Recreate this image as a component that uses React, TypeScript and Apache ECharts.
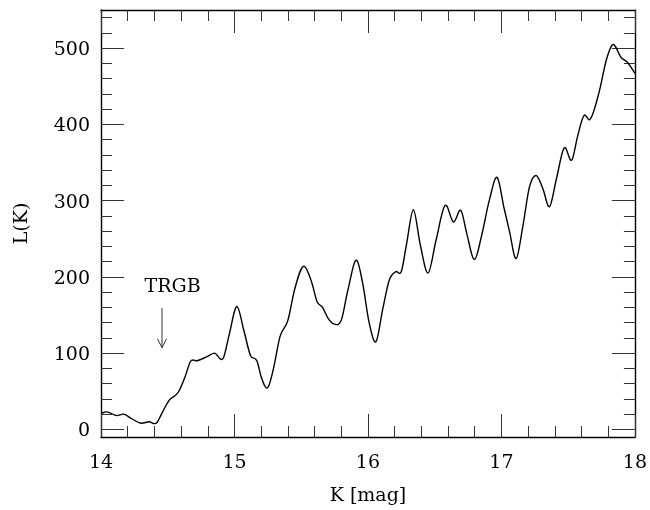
import React, { useEffect, useRef } from "react";
import * as echarts from "echarts";

const kMag = [
  14.0, 14.04, 14.12, 14.17, 14.23, 14.3, 14.36, 14.42, 14.45, 14.51, 14.58, 14.63, 14.67, 14.72, 14.79,
  14.85, 14.92, 14.96, 15.02, 15.07, 15.12, 15.17, 15.2, 15.25, 15.29, 15.34, 15.4, 15.45, 15.52, 15.58,
  15.62, 15.66, 15.7, 15.75, 15.8, 15.85, 15.92, 15.96, 16.01, 16.06, 16.11, 16.16, 16.21, 16.25, 16.29,
  16.34, 16.39, 16.45, 16.51, 16.58, 16.64, 16.7, 16.74, 16.8, 16.85, 16.91, 16.97, 17.02, 17.06, 17.11,
  17.16, 17.21, 17.26, 17.31, 17.36, 17.41, 17.47, 17.53, 17.57, 17.62, 17.66, 17.73, 17.79, 17.83, 17.9,
  17.94, 18.0,
];
const lumK = [
  21, 23, 18, 20, 14, 8, 10, 9, 19, 38, 49, 69, 89, 90, 95,
  100, 95, 124, 161, 130, 97, 89, 69, 55, 78, 121, 143, 183, 214, 192,
  167, 160, 146, 138, 143, 183, 221, 192, 139, 115, 157, 196, 207, 207, 244,
  288, 244, 205, 248, 294, 272, 286, 257, 223, 253, 301, 330, 290, 260, 224,
  266, 318, 333, 316, 292, 327, 369, 354, 384, 412, 406, 441, 487, 504, 487,
  482, 467,
];
const yMajorTicks = [0, 100, 200, 300, 400, 500];
const yMinorTicks = [
  20, 40, 60, 80, 120, 140, 160, 180, 220, 240, 260, 280, 320, 340, 360, 380, 420, 440, 460, 480, 520, 540,
];
const trgbK = 14.457;
const trgbLabelY = 189;
const trgbArrowTop = 159;
const trgbArrowBottom = 107;

const FONT = "DejaVu Serif";

export default function App() {
  const ref = useRef<HTMLDivElement>(null);
  useEffect(() => {
    if (!ref.current) return;
    const chart = echarts.init(ref.current, null, { renderer: "svg" });
    const yMin = -10;
    const yMax = 550;
    const lineStyle = { color: "#000", width: 1.4 };
    const tickStyle = { color: "#333", width: 1 };
    const baseY = (pos: "left" | "right", ticks: number[], len: number, labels: boolean, line: boolean, name?: string) => ({
      type: "value",
      position: pos,
      min: yMin,
      max: yMax,
      name: name,
      nameLocation: "middle",
      nameGap: 72,
      nameTextStyle: { fontFamily: FONT, fontSize: 19, color: "#000" },
      axisLine: { show: line, onZero: false, lineStyle },
      axisTick: { show: true, inside: true, length: len, customValues: ticks, lineStyle: tickStyle },
      axisLabel: labels
        ? { show: true, customValues: ticks, margin: 11, fontFamily: FONT, fontSize: 19, color: "#000" }
        : { show: false },
      splitLine: { show: false },
    });

    // Smooth curve through the data points, using the axes' own scales (api.coord)
    const renderCurve = (params: any, api: any) => {
      if (params.dataIndex !== 0) return null;
      const pts = kMag.map((k, i) => api.coord([k, lumK[i]]) as number[]);
      const n = pts.length;
      const slope: number[] = [];
      for (let i = 0; i < n; i++) {
        if (i === 0) slope.push((pts[1][1] - pts[0][1]) / (pts[1][0] - pts[0][0]));
        else if (i === n - 1) slope.push((pts[n - 1][1] - pts[n - 2][1]) / (pts[n - 1][0] - pts[n - 2][0]));
        else {
          const h0 = pts[i][0] - pts[i - 1][0];
          const h1 = pts[i + 1][0] - pts[i][0];
          const d0 = (pts[i][1] - pts[i - 1][1]) / h0;
          const d1 = (pts[i + 1][1] - pts[i][1]) / h1;
          slope.push((d0 * h1 + d1 * h0) / (h0 + h1));
        }
      }
      let d = `M${pts[0][0].toFixed(2)},${pts[0][1].toFixed(2)}`;
      for (let i = 0; i < n - 1; i++) {
        const h = pts[i + 1][0] - pts[i][0];
        const c1x = pts[i][0] + h / 3;
        const c1y = pts[i][1] + (slope[i] * h) / 3;
        const c2x = pts[i + 1][0] - h / 3;
        const c2y = pts[i + 1][1] - (slope[i + 1] * h) / 3;
        d += `C${c1x.toFixed(2)},${c1y.toFixed(2)} ${c2x.toFixed(2)},${c2y.toFixed(2)} ${pts[i + 1][0].toFixed(2)},${pts[i + 1][1].toFixed(2)}`;
      }
      return {
        type: "path",
        shape: { pathData: d },
        style: { stroke: "#000", lineWidth: 1.4, fill: "none" },
        silent: true,
      };
    };

    chart.setOption({
      animation: false,
      grid: { left: 101, right: 15, top: 10, bottom: 73 },
      xAxis: [
        {
          type: "value",
          position: "bottom",
          min: 14,
          max: 18,
          interval: 1,
          name: "K [mag]",
          nameLocation: "middle",
          nameGap: 47,
          nameTextStyle: { fontFamily: FONT, fontSize: 19, color: "#000" },
          axisLine: { show: true, onZero: false, lineStyle },
          axisTick: { show: true, inside: true, length: 23, lineStyle: tickStyle },
          minorTick: { show: true, splitNumber: 5, length: 11, lineStyle: tickStyle },
          axisLabel: { margin: 14, fontFamily: FONT, fontSize: 19, color: "#000" },
          splitLine: { show: false },
        },
        {
          type: "value",
          position: "top",
          min: 14,
          max: 18,
          interval: 1,
          axisLine: { show: true, onZero: false, lineStyle },
          axisTick: { show: true, inside: true, length: 23, lineStyle: tickStyle },
          minorTick: { show: true, splitNumber: 5, length: 11, lineStyle: tickStyle },
          axisLabel: { show: false },
          splitLine: { show: false },
        },
      ],
      yAxis: [
        baseY("left", yMajorTicks, 23, true, true, "L(K)"),
        baseY("right", yMajorTicks, 23, false, true),
        baseY("left", yMinorTicks, 11, false, false),
        baseY("right", yMinorTicks, 11, false, false),
      ],
      series: [
        {
          type: "custom",
          xAxisIndex: 0,
          yAxisIndex: 0,
          data: kMag.map((k, i) => [k, lumK[i]]),
          renderItem: renderCurve,
          clip: true,
        },
      ],
    });
    const top = chart.convertToPixel({ gridIndex: 0 }, [trgbK, trgbArrowTop]) as number[];
    const bot = chart.convertToPixel({ gridIndex: 0 }, [trgbK, trgbArrowBottom]) as number[];
    const lab = chart.convertToPixel({ gridIndex: 0 }, [trgbK + 0.08, trgbLabelY]) as number[];
    const stroke = { stroke: "#333", lineWidth: 1 };
    chart.setOption({
      graphic: [
        { type: "line", shape: { x1: top[0], y1: top[1], x2: bot[0], y2: bot[1] }, style: stroke },
        {
          type: "polyline",
          shape: { points: [[bot[0] - 4.5, bot[1] - 9], [bot[0], bot[1]], [bot[0] + 4.5, bot[1] - 9]] },
          style: { ...stroke, fill: "none" },
        },
        {
          type: "text",
          x: lab[0],
          y: lab[1],
          style: { text: "TRGB", font: `19px "${FONT}"`, fill: "#000", align: "center", verticalAlign: "middle" },
        },
      ],
    });
    return () => chart.dispose();
  }, []);
  return <div ref={ref} style={{ position: "fixed", left: 0, top: 0, width: 650, height: 510 }} />;
}
